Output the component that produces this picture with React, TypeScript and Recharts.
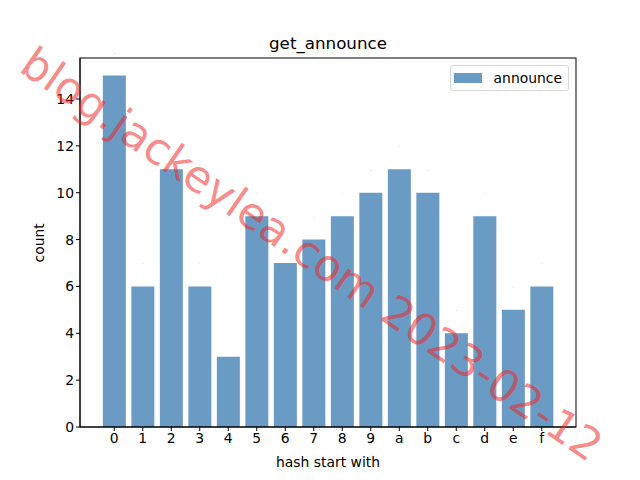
import { BarChart, Bar, XAxis, YAxis, LabelList } from "recharts";

document.body.style.margin = "0";

const categories = ["0", "1", "2", "3", "4", "5", "6", "7", "8", "9", "a", "b", "c", "d", "e", "f"];
const announce = [15, 6, 11, 6, 3, 9, 7, 8, 9, 10, 11, 10, 4, 9, 5, 6];
const yTicks = [0, 2, 4, 6, 8, 10, 12, 14];

const chartData = categories.map((name, i) => ({ name, announce: announce[i] }));

const font = "DejaVu Sans, sans-serif";
const barColor = "#6a9bc4";

// plot box (matplotlib axes area)
const plot = { left: 80, top: 58, right: 576, bottom: 427 };

export default function App() {
  return (
    <div style={{ position: "relative", width: 640, height: 480, background: "#fff" }}>
      <BarChart
        width={640}
        height={480}
        data={chartData}
        margin={{ top: plot.top, right: 640 - plot.right, left: plot.left - 50, bottom: 480 - plot.bottom - 30 }}
        barCategoryGap="10%"
      >
        <XAxis
          dataKey="name"
          padding={{ left: 20, right: 20 }}
          tick={{ fill: "#000", fontSize: 13.9, fontFamily: font }}
          tickLine={{ stroke: "#000" }}
          axisLine={{ stroke: "#000" }}
          tickSize={4}
          height={30}
          interval={0}
          label={{ value: "hash start with", position: "insideBottom", offset: -10, fill: "#000", fontSize: 13.9, fontFamily: font }}
        />
        <YAxis
          domain={[0, 15.75]}
          ticks={yTicks}
          width={50}
          tick={{ fill: "#000", fontSize: 13.9, fontFamily: font }}
          tickLine={{ stroke: "#000" }}
          axisLine={{ stroke: "#000" }}
          tickSize={4}
          allowDataOverflow
          label={{ value: "count", angle: -90, position: "insideLeft", offset: 9, fill: "#000", fontSize: 13.9, fontFamily: font, dy: 20 }}
        />
        <Bar dataKey="announce" fill={barColor} isAnimationActive={false}>
          <LabelList dataKey="announce" position="top" offset={22} fill="#999" fontSize={2} />
        </Bar>
      </BarChart>
      <div
        style={{
          position: "absolute",
          left: 0,
          top: 33,
          width: 640,
          textAlign: "center",
          fontFamily: font,
          fontSize: 16.7,
          color: "#000",
          paddingLeft: 16,
          boxSizing: "border-box",
        }}
      >
        get_announce
      </div>
      <div
        style={{
          position: "absolute",
          right: 640 - plot.right + 7,
          top: plot.top + 7,
          border: "1px solid #d6d6d6",
          borderRadius: 3,
          background: "rgba(255,255,255,0.8)",
          padding: "4px 6px 4px 3px",
          display: "flex",
          alignItems: "center",
          gap: 12,
          fontFamily: font,
          fontSize: 13.9,
          color: "#000",
        }}
      >
        <span style={{ width: 28, height: 10, background: barColor, display: "inline-block" }} />
        <span>announce</span>
      </div>
      <svg width={640} height={480} style={{ position: "absolute", left: 0, top: 0, pointerEvents: "none" }}>
        <rect
          x={plot.left}
          y={plot.top}
          width={plot.right - plot.left}
          height={plot.bottom - plot.top}
          fill="none"
          stroke="#000"
          strokeWidth={1}
        />
        <text
          x={312}
          y={254}
          textAnchor="middle"
          dominantBaseline="central"
          transform="rotate(34.5 312 254)"
          fill="rgb(240,40,40)"
          fillOpacity={0.55}
          fontFamily={font}
          fontSize={44}
        >
          blog.jackeylea.com 2023-02-12
        </text>
      </svg>
    </div>
  );
}
